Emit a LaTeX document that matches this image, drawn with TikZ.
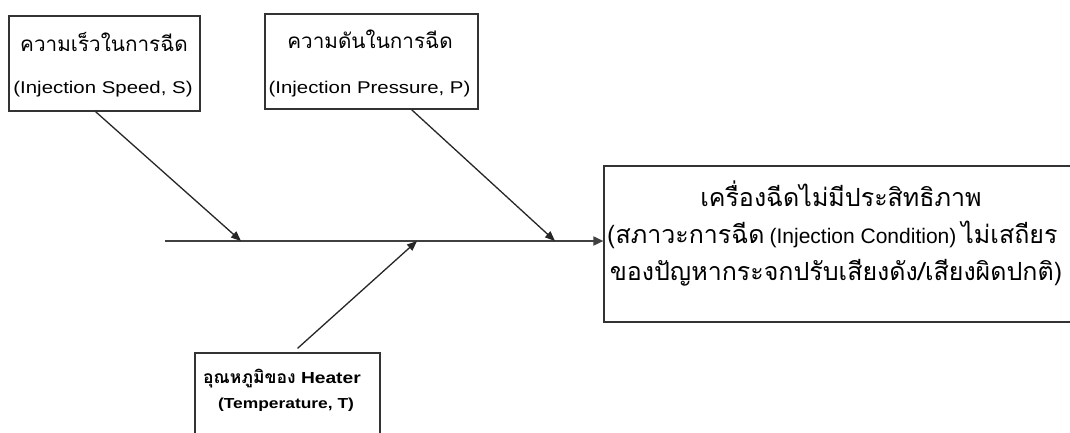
\documentclass[tikz,border=0pt]{standalone}
\usepackage{fontspec}
\usetikzlibrary{arrows.meta}
\newfontfamily\thaif[Script=Thai]{Loma}
\newfontfamily\latf[FakeStretch=1.2]{Liberation Sans}
\newfontfamily\latn{Liberation Sans}
\begin{document}
\begin{tikzpicture}[x=1pt,y=-1pt,
  box/.style={draw=black!80,line width=1.2pt,inner sep=0pt,rectangle},
  txt/.style={inner sep=0pt,anchor=base,font=\fontsize{17}{20}\selectfont},
  stxt/.style={inner sep=0pt,anchor=base,font=\fontsize{14.5}{17}\selectfont\bfseries},
  arr/.style={draw=black!85,line width=1.3pt,-{Triangle[length=10pt,width=8pt]}},
  spine/.style={draw=black!75,line width=1.8pt,-{Triangle[length=10pt,width=9pt]}}]
\useasboundingbox (0,0) rectangle (1070,433);
% boxes
\node[box,minimum width=191pt,minimum height=95pt] (s) at (104.5,63.5) {};
\node[box,minimum width=213pt,minimum height=95pt] (p) at (371.5,61.5) {};
\node[box,minimum width=482pt,minimum height=156pt] (eff) at (845,244) {};
\node[box,minimum width=185pt,minimum height=100pt] (t) at (287.5,403) {};
% texts
\node[txt] (s1) at (104,52) {\fontsize{20.7}{24}\thaif ความเร็วในการฉีด};
\node[txt] (s2) at (103,94) {\latf (Injection Speed, S)};
\node[txt] (p1) at (370,49) {\fontsize{20.7}{24}\thaif ความดันในการฉีด};
\node[txt] (p2) at (369.5,94) {\latf (Injection Pressure, P)};
\node[txt] (e1) at (841,206) {\fontsize{25}{28}\thaif เครื่องฉีดไม่มีประสิทธิภาพ};
\node[txt,anchor=base west] (e2) at (607,243) {{\fontsize{25}{28}\thaif (สภาวะการฉีด}\hspace{5pt}{\fontsize{21}{24}\latn (Injection Condition)}\hspace{5pt}{\fontsize{25}{28}\thaif ไม่เสถียร}};
\node[txt] (e3) at (836,280) {\fontsize{25}{28}\thaif ของปัญหากระจกปรับเสียงดัง/เสียงผิดปกติ)};
\node[stxt] (t1) at (282,383) {{\fontsize{17.5}{20}\thaif อุณหภูมิของ} {\fontsize{16}{20}\latf Heater}};
\node[stxt] (t2) at (286,408) {\latf (Temperature, T)};
% spine
\coordinate (tail) at (165,241);
\draw[spine] (tail) -- (tail -| eff.west);
\coordinate (a1) at (241,241);
\coordinate (a2) at (555,241);
\coordinate (a3) at (417,241);
\draw[arr] ([shift={(-9,0)}]s.south) -- (a1);
\draw[arr] ([shift={(40,0)}]p.south) -- (a2);
\draw[arr] ([shift={(10,-4)}]t.north) -- (a3);
\end{tikzpicture}
\end{document}
